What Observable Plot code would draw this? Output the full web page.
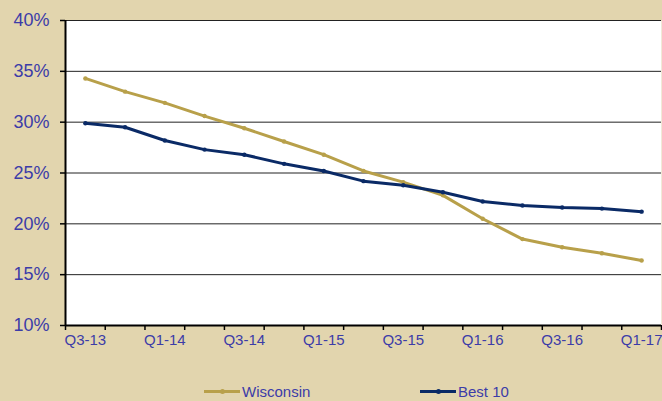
<!DOCTYPE html>
<html>
<head>
<meta charset="utf-8">
<script src="https://cdn.jsdelivr.net/npm/d3@7"></script>
<script src="https://cdn.jsdelivr.net/npm/@observablehq/plot@0.6"></script>
<style>
  html, body { margin: 0; padding: 0; background: #E2D5AE; }
  body { width: 662px; height: 401px; overflow: hidden; position: relative; font-family: "Liberation Sans", Arial, sans-serif; }
  #chart svg { display: block; background: transparent; }
  .legend { position: absolute; top: 382px; left: 0; width: 662px; height: 19px; font-size: 15px; color: #3C3CA8; }
  .item { position: absolute; top: 0; display: flex; align-items: center; height: 19px; }
  .swatch { position: relative; width: 36px; height: 3px; margin-right: 2px; }
  .swatch::after { content: ""; position: absolute; left: 16px; top: -1px; width: 5px; height: 5px; border-radius: 50%; background: inherit; }
</style>
</head>
<body>
<div id="chart"></div>
<div class="legend">
  <div class="item" style="left:204px"><span class="swatch" style="background:#B8A04A"></span>Wisconsin</div>
  <div class="item" style="left:420px"><span class="swatch" style="background:#0A2A66"></span>Best 10</div>
</div>
<script>
const quarters = ["Q3-13","Q4-13","Q1-14","Q2-14","Q3-14","Q4-14","Q1-15","Q2-15","Q3-15","Q4-15","Q1-16","Q2-16","Q3-16","Q4-16","Q1-17"];
const wisconsin = [34.3, 33.0, 31.9, 30.6, 29.4, 28.1, 26.8, 25.2, 24.1, 22.8, 20.5, 18.5, 17.7, 17.1, 16.4];
const best10    = [29.9, 29.5, 28.2, 27.3, 26.8, 25.9, 25.2, 24.2, 23.8, 23.1, 22.2, 21.8, 21.6, 21.5, 21.2];
const yTicks = [10, 15, 20, 25, 30, 35, 40];
const xLabelIdx = [0, 2, 4, 6, 8, 10, 12, 14];

const data = [];
quarters.forEach((q, i) => {
  data.push({i, q, series: "Wisconsin", v: wisconsin[i]});
  data.push({i, q, series: "Best 10", v: best10[i]});
});
const colors = {"Wisconsin": "#B8A04A", "Best 10": "#0A2A66"};
const textColor = "#3C3CA8";
const boundaries = d3.range(quarters.length + 1).map(k => k - 0.5);

const chart = Plot.plot({
  width: 662,
  height: 401,
  marginLeft: 65,
  marginRight: 1,
  marginTop: 20,
  marginBottom: 76,
  style: {fontFamily: "Liberation Sans, Arial, sans-serif", background: "transparent"},
  x: {domain: [-0.5, quarters.length - 0.5]},
  y: {domain: [10, 40]},
  marks: [
    Plot.frame({fill: "white", stroke: null}),
    Plot.gridY(yTicks.filter(t => t > 10), {stroke: "#222", strokeOpacity: 1, strokeWidth: 1}),
    Plot.axisY(yTicks, {tickFormat: d => d + "%", tickSize: 5, tickPadding: 11, fontSize: 18, color: textColor, stroke: "black", strokeWidth: 1.5, label: null}),
    Plot.axisX(boundaries, {tickFormat: () => "", tickSize: 5, stroke: "black", strokeWidth: 1.5, label: null}),
    Plot.axisX(xLabelIdx, {tickSize: 0, tickPadding: 9, tickFormat: i => quarters[i], fontSize: 15, color: textColor, label: null}),
    Plot.ruleX([-0.5], {stroke: "black", strokeWidth: 2}),
    Plot.ruleY([10], {stroke: "black", strokeWidth: 2}),
    Plot.line(data, {x: "i", y: "v", z: "series", stroke: d => colors[d.series], strokeWidth: 3}),
    Plot.dot(data, {x: "i", y: "v", r: 2.2, fill: d => colors[d.series], stroke: null})
  ]
});
document.getElementById("chart").appendChild(chart);
</script>
</body>
</html>
